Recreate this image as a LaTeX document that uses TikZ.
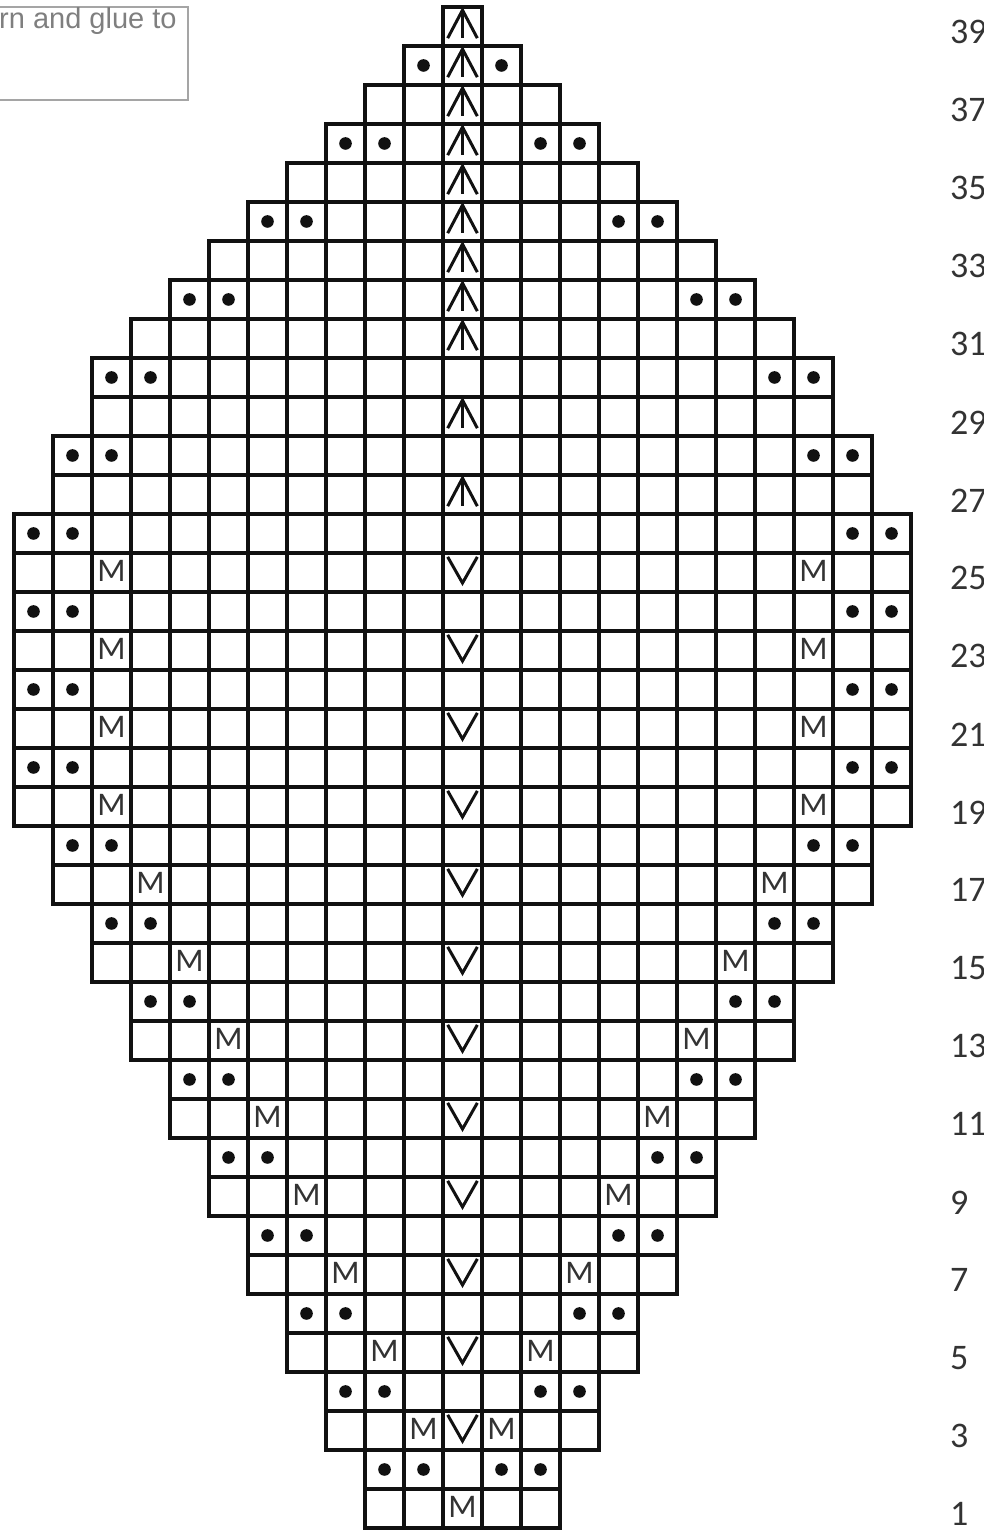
\documentclass[tikz,border=0pt]{standalone}
\usepackage{fontspec}
\setmainfont{Carlito}
\newfontfamily\notefont{Liberation Sans}
\definecolor{chartblack}{HTML}{111111}
\definecolor{labelgray}{HTML}{333333}
\definecolor{notegray}{HTML}{7F7F7F}
\definecolor{boxgray}{HTML}{A5A5A5}

\begin{document}
\begin{tikzpicture}[
    x=1pt, y=1pt,
    cell/.style={
        draw=chartblack,
        line width=3.3pt
    },
    purl/.style={
        fill=chartblack
    },
    stitchline/.style={
        draw=chartblack,
        line width=3pt
    },
    makeone/.style={
        font=\fontsize{33}{33}\selectfont,
        text=labelgray,
        inner sep=0pt
    },
    rowlabel/.style={
        font=\fontsize{36}{36}\selectfont,
        text=labelgray,
        anchor=west,
        inner sep=0pt
    },
    note/.style={
        font=\notefont\fontsize{29}{29}\selectfont,
        text=notegray,
        anchor=base west,
        inner sep=0pt
    },
    notebox/.style={
        draw=boxgray,
        line width=2pt
    }
]
\useasboundingbox (0,0) rectangle (1007,1530);

% clipped note box, top left
\draw[notebox] (-10,1430) rectangle (188,1523);
\node[note] (note) at (-1,1501) {rn and glue to};

\begin{scope}[shift={(14,2)}, x=39pt, y=39pt]

% row / first column / last column
\foreach \rw/\a/\b in {1/9/13, 2/9/13, 3/8/14, 4/8/14, 5/7/15, 6/7/15,
    7/6/16, 8/6/16, 9/5/17, 10/5/17, 11/4/18, 12/4/18, 13/3/19, 14/3/19,
    15/2/20, 16/2/20, 17/1/21, 18/1/21, 19/0/22, 20/0/22, 21/0/22,
    22/0/22, 23/0/22, 24/0/22, 25/0/22, 26/0/22, 27/1/21, 28/1/21,
    29/2/20, 30/2/20, 31/3/19, 32/4/18, 33/5/17, 34/6/16, 35/7/15,
    36/8/14, 37/9/13, 38/10/12, 39/11/11}
    \foreach \c in {\a,...,\b}
        \draw[cell] (\c,\rw-1) rectangle ++(1,1);

% purl pairs at both edges
\foreach \rw/\a/\b in {2/9/13, 4/8/14, 6/7/15, 8/6/16, 10/5/17, 12/4/18,
    14/3/19, 16/2/20, 18/1/21, 20/0/22, 22/0/22, 24/0/22, 26/0/22,
    28/1/21, 30/2/20, 32/4/18, 34/6/16, 36/8/14}
{
    \fill[purl] (\a+0.5,\rw-0.5) circle (6.3pt);
    \fill[purl] (\a+1.5,\rw-0.5) circle (6.3pt);
    \fill[purl] (\b-0.5,\rw-0.5) circle (6.3pt);
    \fill[purl] (\b+0.5,\rw-0.5) circle (6.3pt);
}
\fill[purl] (10.5,37.5) circle (6.3pt);
\fill[purl] (12.5,37.5) circle (6.3pt);

% make one stitches
\node[makeone] (m-1) at (11.5,0.54) {M};
\foreach \rw/\a/\b in {3/10/12, 5/9/13, 7/8/14, 9/7/15, 11/6/16,
    13/5/17, 15/4/18, 17/3/19, 19/2/20, 21/2/20, 23/2/20, 25/2/20}
{
    \node[makeone] (ml-\rw) at (\a+0.5,\rw-0.46) {M};
    \node[makeone] (mr-\rw) at (\b+0.5,\rw-0.46) {M};
}

% centre column: slipped stitch, then double decrease
\foreach \rw in {3,5,...,25}
    \draw[stitchline] (11.12,\rw-0.1) -- (11.5,\rw-0.77) -- (11.88,\rw-0.1);
\foreach \rw in {27,29,31,32,...,39}
{
    \draw[stitchline] (11.12,\rw-0.8) -- (11.5,\rw-0.08) -- (11.88,\rw-0.8);
    \draw[stitchline] (11.5,\rw-0.08) -- (11.5,\rw-0.8);
}

% row numbers, cut at the right edge
\begin{scope}
    \clip (0,0) rectangle (24.85,40);
    \foreach \rw in {1,3,...,39}
        \node[rowlabel] (row-\rw) at (24,\rw-0.65) {\rw};
\end{scope}

\end{scope}

\end{tikzpicture}
\end{document}
